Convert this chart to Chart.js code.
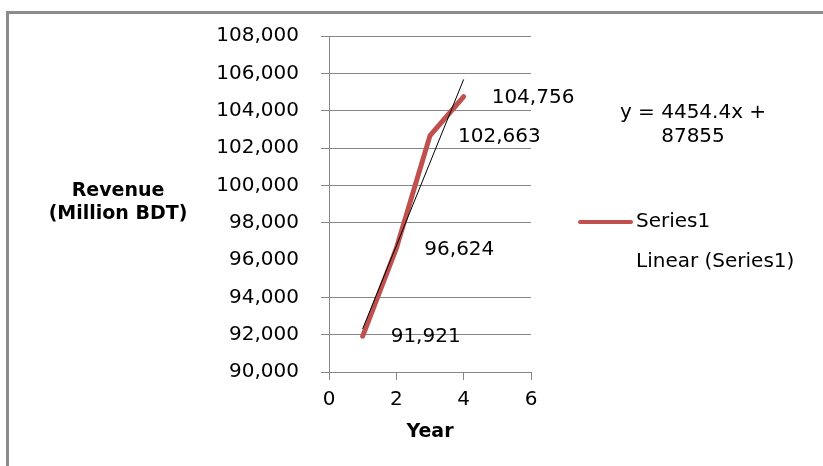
<!DOCTYPE html>
<html><head><meta charset="utf-8">
<script src="https://cdn.jsdelivr.net/npm/chart.js@4"></script>
<style>
html,body{margin:0;padding:0;background:#fff;}
#wrap{position:relative;width:823px;height:466px;overflow:hidden;background:#fff;}
#frame{position:absolute;left:6px;top:11px;width:840px;height:480px;border-left:3px solid #8c8c8c;border-top:3px solid #8c8c8c;pointer-events:none;}
canvas{position:absolute;left:0;top:0;}
</style></head><body>
<div id="wrap"><canvas id="c" width="823" height="466"></canvas><div id="frame"></div></div>
<script>
// ---- data ----
const years = [1, 2, 3, 4];
const revenue = [91921, 96624, 102663, 104756];
const trendX = [1, 4];
const trendY = [92309, 105673];
const xTickValues = [0, 2, 4, 6];
const yTickValues = [90000, 92000, 94000, 96000, 98000, 100000, 102000, 104000, 106000, 108000];
const seriesNames = ['Series1', 'Linear (Series1)'];
const equationLines = ['y = 4454.4x +', '87855'];
const yTitleLines = ['Revenue', '(Million BDT)'];
const xTitle = 'Year';

const seriesColor = '#C0504D';
const gridColor = '#868686';
const FONT = '"DejaVu Sans", Verdana, sans-serif';

const annot = {
  id: 'annot',
  afterDatasetsDraw(chart) {
    const ctx = chart.ctx;
    const meta = chart.getDatasetMeta(0);
    ctx.save();
    ctx.fillStyle = '#000';
    ctx.font = '20px ' + FONT;
    ctx.textAlign = 'left';
    ctx.textBaseline = 'middle';
    meta.data.forEach((pt, i) => {
      ctx.fillText(revenue[i].toLocaleString('en-US'), pt.x + 28, pt.y + 1);
    });
    ctx.textAlign = 'center';
    ctx.fillText(equationLines[0], 693, 113);
    ctx.fillText(equationLines[1], 693, 137);
    ctx.font = 'bold 19px ' + FONT;
    ctx.fillText(yTitleLines[0], 118, 191);
    ctx.fillText(yTitleLines[1], 118, 214);
    // legend
    ctx.strokeStyle = seriesColor;
    ctx.lineWidth = 4;
    ctx.lineCap = 'round';
    ctx.beginPath(); ctx.moveTo(580, 222); ctx.lineTo(631, 222); ctx.stroke();
    ctx.font = '20px ' + FONT;
    ctx.textAlign = 'left';
    ctx.fillText(seriesNames[0], 636, 222);
    ctx.fillText(seriesNames[1], 636, 262);
    ctx.restore();
  }
};

new Chart(document.getElementById('c'), {
  type: 'scatter',
  data: {
    datasets: [
      {
        label: seriesNames[0],
        data: years.map((x, i) => ({x: x, y: revenue[i]})),
        showLine: true,
        borderColor: seriesColor,
        backgroundColor: seriesColor,
        borderWidth: 5,
        borderCapStyle: 'round',
        borderJoinStyle: 'round',
        pointRadius: 0,
        order: 1
      },
      {
        label: seriesNames[1],
        data: trendX.map((x, i) => ({x: x, y: trendY[i]})),
        showLine: true,
        borderColor: '#000',
        borderWidth: 1,
        pointRadius: 0,
        order: 0
      }
    ]
  },
  options: {
    responsive: false,
    animation: false,
    devicePixelRatio: 1,
    layout: {padding: {left: 0, top: 36, right: 292, bottom: 0}},
    plugins: {legend: {display: false}, tooltip: {enabled: false}},
    scales: {
      x: {
        type: 'linear',
        min: 0, max: 6,
        afterBuildTicks: s => { s.ticks = xTickValues.map(v => ({value: v})); },
        afterFit: s => { s.height = 94; },
        grid: {drawOnChartArea: false, drawTicks: true, tickLength: 8, color: gridColor},
        border: {display: true, color: gridColor},
        ticks: {padding: 8, color: '#000', font: {family: FONT, size: 20}},
        title: {display: true, text: xTitle, color: '#000', font: {family: FONT, size: 19, weight: 'bold'}, padding: {top: 0, bottom: 23}}
      },
      y: {
        type: 'linear',
        min: 90000, max: 108000,
        afterBuildTicks: s => { s.ticks = yTickValues.map(v => ({value: v})); },
        afterFit: s => { s.width = 329; },
        grid: {
          drawTicks: true, tickLength: 8,
          color: c => (c.tick && c.tick.value === 96000) ? 'rgba(0,0,0,0)' : gridColor
        },
        border: {display: true, color: gridColor},
        ticks: {padding: 22, color: '#000', font: {family: FONT, size: 20},
          callback: v => v.toLocaleString('en-US')}
      }
    }
  },
  plugins: [annot]
});
</script>
</body></html>
